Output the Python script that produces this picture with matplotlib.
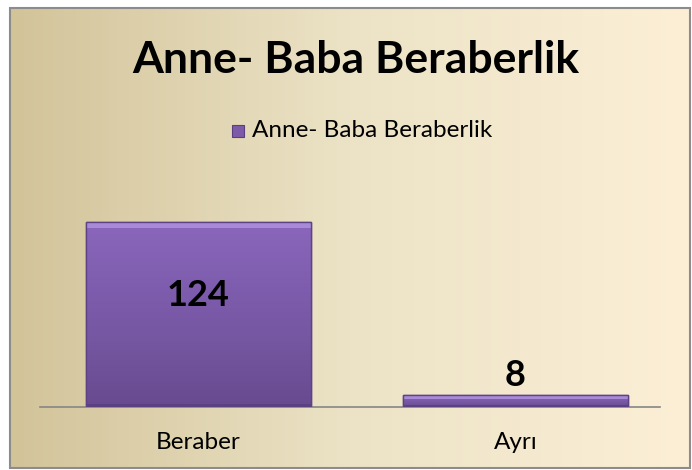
import numpy as np
import matplotlib.pyplot as plt
from matplotlib.patches import Rectangle
from matplotlib.colors import LinearSegmentedColormap

categories = ['Beraber', 'Ayrı']
values = [124, 8]
series_name = 'Anne- Baba Beraberlik'
title = 'Anne- Baba Beraberlik'

plt.rcParams['font.family'] = ['Lato', 'DejaVu Sans']

fig = plt.figure(figsize=(6.92, 4.70), dpi=100)

# background panel with horizontal gradient
bg = fig.add_axes([0, 0, 1, 1], zorder=0)
bg.set_xlim(0, 692)
bg.set_ylim(470, 0)
bg.axis('off')
bg_cmap = LinearSegmentedColormap.from_list('bg', ['#d2c399', '#ece3c6', '#fcefd6'])
grad = np.linspace(0, 1, 256).reshape(1, -1)
bg.imshow(grad, cmap=bg_cmap, extent=[10, 690, 468, 8], aspect='auto')
bg.add_patch(Rectangle((10, 8), 680, 460, fill=False, edgecolor='#8c8c8c', linewidth=1.5))

fig.text(356 / 692, 1 - 60 / 470, title, ha='center', va='center', fontsize=32, fontweight='bold', color='black')

# legend
fig.patches.append(Rectangle((232 / 692, 1 - 137 / 470), 12 / 692, 12 / 470,
                             transform=fig.transFigure, facecolor='#7d5ba8',
                             edgecolor='#5a3f80', linewidth=0.8))
fig.text(252 / 692, 1 - 130 / 470, series_name, ha='left', va='center', fontsize=17.5)

ax = fig.add_axes([40 / 692, 63 / 470, 620 / 692, 209 / 470], zorder=1)
ax.patch.set_alpha(0)
x = np.arange(len(categories))
bars = ax.bar(x, values, width=0.71, color='#7a59a4', edgecolor='#5d4385', linewidth=1, zorder=2)

# vertical gradient inside the bars, with a light bevel on top
bar_cmap = LinearSegmentedColormap.from_list('bar', ['#8a67ba', '#7f5daf', '#7456a0', '#684a90'])
vgrad = np.linspace(0, 1, 256).reshape(-1, 1)
for b in bars:
    x0, w, h = b.get_x(), b.get_width(), b.get_height()
    im = ax.imshow(vgrad, cmap=bar_cmap, extent=[x0, x0 + w, 0, h], aspect='auto', zorder=2.5)
    im.set_clip_path(b)
    bev = min(4, h * 0.35)
    ax.add_patch(Rectangle((x0, h - bev), w, bev, facecolor='#a98ad8', edgecolor='none', zorder=2.6))
    ax.add_patch(Rectangle((x0, 0), w, min(2, h * 0.15), facecolor='#5c4182', edgecolor='none', zorder=2.6))
    ax.add_patch(Rectangle((x0, 0), w, h, fill=False, edgecolor='#5d4385', linewidth=1, zorder=2.7))

ax.set_xlim(-0.5, 1.456)
ax.set_ylim(0, 140)
for s in ['top', 'right', 'left']:
    ax.spines[s].set_visible(False)
ax.spines['bottom'].set_color('#868686')
ax.spines['bottom'].set_linewidth(1.2)
ax.set_yticks([])
ax.set_xticks(x)
ax.set_xticklabels(categories, fontsize=17.5)
ax.tick_params(axis='x', length=0, pad=18)

ax.text(x[0], values[0] * 0.6, str(values[0]), ha='center', va='center', fontsize=26, fontweight='bold', zorder=4)
ax.text(x[1], values[1] + 13, str(values[1]), ha='center', va='center', fontsize=26, fontweight='bold', zorder=4)

fig.savefig('out.png', dpi=100)
